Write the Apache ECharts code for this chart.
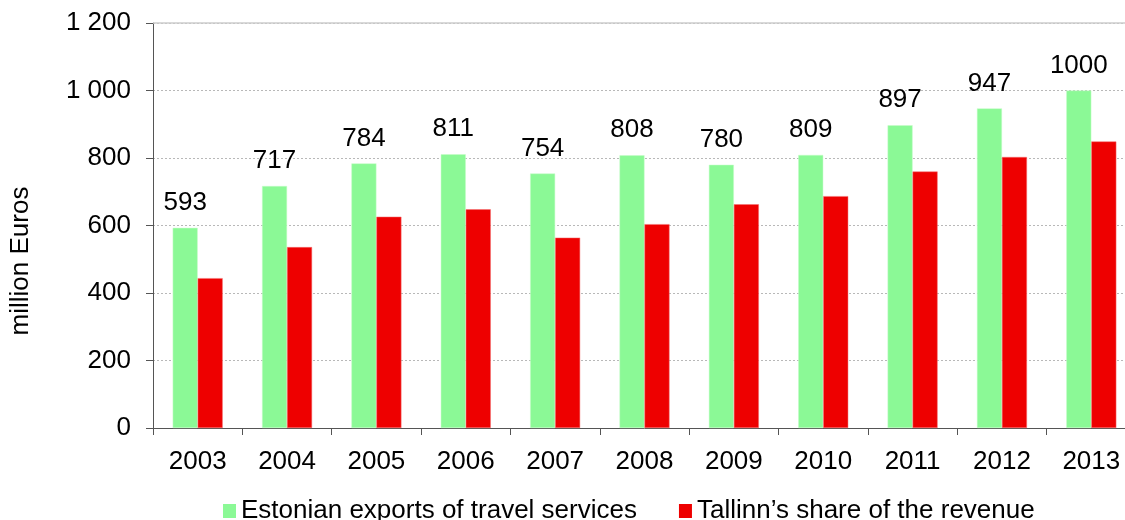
<!DOCTYPE html>
<html>
<head>
<meta charset="utf-8">
<script src="https://cdn.jsdelivr.net/npm/echarts@6/dist/echarts.min.js"></script>
<style>html,body{margin:0;padding:0;background:#fff;overflow:hidden;width:1125px;height:520px}#c{width:1137px;height:520px}</style>
</head>
<body>
<div id="c"></div>
<script>
const categories = ['2003','2004','2005','2006','2007','2008','2009','2010','2011','2012','2013'];
const exportsTravel = [593, 717, 784, 811, 754, 808, 780, 809, 897, 947, 1000];
const tallinnShare = [444, 536, 626, 648, 564, 604, 663, 687, 760, 803, 849];
const seriesNames = ['Estonian exports of travel services', 'Tallinn\u2019s share of the revenue'];
const yTicks = [0, 200, 400, 600, 800, 1000, 1200];
const yTitle = 'million Euros';

const FONT = '"Liberation Sans", Arial, sans-serif';
const FS = 26;
const chart = echarts.init(document.getElementById('c'), null, {renderer: 'canvas'});
chart.setOption({
  animation: false,
  backgroundColor: '#ffffff',
  textStyle: {fontFamily: FONT},
  grid: {left: 153, right: 1, top: 23, bottom: 92, containLabel: false},
  graphic: [{
    type: 'text',
    x: 21, y: 261,
    rotation: Math.PI / 2,
    style: {text: yTitle, fontFamily: FONT, fontSize: FS, fill: '#000', align: 'center', verticalAlign: 'middle'}
  }],
  legend: {
    data: seriesNames,
    left: 218, top: 493,
    itemWidth: 13, itemHeight: 14, itemGap: 42,
    icon: 'rect',
    itemStyle: {borderWidth: 0},
    textStyle: {fontFamily: FONT, fontSize: FS, color: '#000'}
  },
  xAxis: {
    type: 'category',
    data: categories,
    axisLine: {lineStyle: {color: '#555', width: 1}},
    axisTick: {show: true, alignWithLabel: false, length: 7, lineStyle: {color: '#555'}},
    axisLabel: {fontFamily: FONT, fontSize: FS, color: '#000', margin: 21}
  },
  yAxis: {
    type: 'value',
    min: yTicks[0], max: yTicks[yTicks.length - 1], interval: 200,
    axisLine: {show: true, lineStyle: {color: '#555', width: 1}},
    axisTick: {show: true, length: 7, lineStyle: {color: '#555'}},
    axisLabel: {
      fontFamily: FONT, fontSize: FS, color: '#000', margin: 22,
      formatter: v => String(v).replace(/\B(?=(\d{3})+(?!\d))/g, ' ')
    },
    splitLine: {show: true, lineStyle: {color: '#b8b8b8', type: [2, 2], width: 1}}
  },
  series: [
    {
      name: seriesNames[0],
      type: 'bar',
      data: exportsTravel,
      barWidth: 25,
      barGap: '0%',
      itemStyle: {color: '#8bf996', borderColor: '#c6fcc9', borderWidth: 0.5},
      label: {show: true, position: 'top', distance: 12, fontFamily: FONT, fontSize: FS, color: '#000'},
      markLine: {
        silent: true, symbol: 'none', label: {show: false},
        lineStyle: {color: '#cccccc', type: 'solid', width: 1.5},
        data: [{yAxis: yTicks[yTicks.length - 1]}]
      }
    },
    {
      name: seriesNames[1],
      type: 'bar',
      data: tallinnShare,
      barWidth: 25,
      itemStyle: {color: '#ee0000', borderColor: '#f47070', borderWidth: 0.5}
    }
  ]
});
</script>
</body>
</html>
